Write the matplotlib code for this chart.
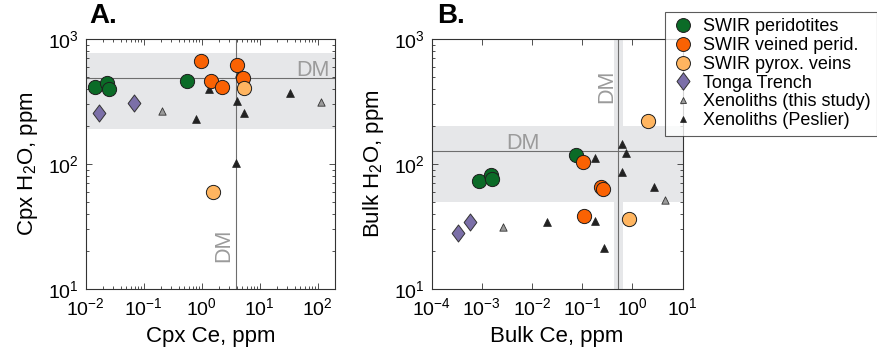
import matplotlib
matplotlib.use("Agg")
import matplotlib.pyplot as plt
from matplotlib.lines import Line2D
from matplotlib.path import Path
import numpy as np

plt.rcParams['font.family'] = ['Liberation Sans', 'DejaVu Sans']
plt.rcParams['mathtext.fontset'] = 'custom'
plt.rcParams['mathtext.rm'] = 'Liberation Sans'
plt.rcParams['mathtext.it'] = 'Liberation Sans:italic'

# ---- Panel A: clinopyroxene Ce vs H2O (ppm) ----
a_perid_ce = [0.0145, 0.023, 0.0255, 0.565]
a_perid_h2o = [415, 443, 401, 464]
a_veined_ce = [0.97, 1.45, 2.2, 4.0, 5.15]
a_veined_h2o = [670, 464, 415, 622, 488]
a_veins_ce = [5.3, 1.58]
a_veins_h2o = [403, 59.4]
a_tonga_ce = [0.0172, 0.068]
a_tonga_h2o = [256, 306]
a_xen_ce = [0.204, 114]
a_xen_h2o = [264, 313]
a_pes_ce = [1.32, 0.80, 4.1, 5.3, 33, 3.86, 4.3]
a_pes_h2o = [396, 228, 319, 257, 368, 102, 535]
a_dm_ce = 3.9
a_dm_h2o = 485
a_dm_band = (190, 775)

# ---- Panel B: bulk Ce vs H2O (ppm) ----
b_perid_ce = [8.6e-4, 1.5e-3, 1.6e-3, 0.075]
b_perid_h2o = [73, 81.7, 75.5, 119]
b_veined_ce = [0.102, 0.236, 0.262, 0.107]
b_veined_h2o = [103, 65.5, 62.8, 38.4]
b_veins_ce = [2.0, 0.86]
b_veins_h2o = [222, 36.5]
b_tonga_ce = [3.3e-4, 5.7e-4]
b_tonga_h2o = [28.2, 34.2]
b_xen_ce = [2.6e-3, 4.4]
b_xen_h2o = [31.5, 52]
b_pes_ce = [0.020, 0.18, 0.18, 0.27, 0.63, 0.73, 0.62, 2.7]
b_pes_h2o = [34.5, 111, 34.8, 21.4, 144, 123, 86, 65.8]
b_dm_ce = 0.52
b_dm_ce_band = (0.43, 0.64)
b_dm_h2o = 126
b_dm_band = (50, 200)

GREEN = '#0b6b27'
ORANGE = '#fa6203'
LIGHT = '#ffb560'
PURPLE = '#7b6fa8'
XGRAY = '#9a9a9a'
DARK = '#222222'
BAND = '#e6e7e9'
LINE = '#6e6e6e'
DMTXT = '#9b9b9b'

# slightly tall diamond
DIAMOND = Path([(0, 1), (0.75, 0), (0, -1), (-0.75, 0), (0, 1)],
               [Path.MOVETO, Path.LINETO, Path.LINETO, Path.LINETO, Path.CLOSEPOLY])

fig = plt.figure(figsize=(8.77, 3.51), dpi=100)
axA = fig.add_axes([0.0977, 0.1766, 0.2846, 0.7123])
axB = fig.add_axes([0.4922, 0.1766, 0.2862, 0.7123])


def draw(ax, d):
    circ = dict(marker='o', s=105, edgecolors='#1e1e1e', linewidths=0.7, zorder=5)
    ax.scatter(d['xen'][0], d['xen'][1], marker='^', s=28, c=XGRAY,
               edgecolors='#333333', linewidths=0.6, zorder=4)
    ax.scatter(d['pes'][0], d['pes'][1], marker='^', s=32, c=DARK,
               edgecolors=DARK, linewidths=0.5, zorder=4)
    ax.scatter(d['tonga'][0], d['tonga'][1], marker=DIAMOND, s=150, c=PURPLE,
               edgecolors='#333333', linewidths=0.7, zorder=5)
    ax.scatter(d['perid'][0], d['perid'][1], c=GREEN, **circ)
    ax.scatter(d['veined'][0], d['veined'][1], c=ORANGE, **circ)
    ax.scatter(d['veins'][0], d['veins'][1], c=LIGHT, **circ)
    ax.set_xscale('log')
    ax.set_yscale('log')
    ax.set_ylim(10, 1000)
    ax.tick_params(which='both', direction='in', top=True, right=True,
                   labelsize=14, width=0.6, color='#333333')
    ax.tick_params(axis='x', pad=6)
    ax.tick_params(axis='y', pad=5)
    ax.tick_params(which='major', length=4)
    ax.tick_params(which='minor', length=2)
    for s in ax.spines.values():
        s.set_linewidth(0.8)
        s.set_color('#333333')
        s.set_zorder(6)


draw(axA, dict(perid=(a_perid_ce, a_perid_h2o), veined=(a_veined_ce, a_veined_h2o),
               veins=(a_veins_ce, a_veins_h2o), tonga=(a_tonga_ce, a_tonga_h2o),
               xen=(a_xen_ce, a_xen_h2o), pes=(a_pes_ce, a_pes_h2o)))
draw(axB, dict(perid=(b_perid_ce, b_perid_h2o), veined=(b_veined_ce, b_veined_h2o),
               veins=(b_veins_ce, b_veins_h2o), tonga=(b_tonga_ce, b_tonga_h2o),
               xen=(b_xen_ce, b_xen_h2o), pes=(b_pes_ce, b_pes_h2o)))

# Depleted-mantle reference values
axA.set_xlim(1e-2, 200)
axA.axhspan(*a_dm_band, color=BAND, lw=0, zorder=0)
axA.axhline(a_dm_h2o, color=LINE, lw=0.8, zorder=1)
axA.axvline(a_dm_ce, color=LINE, lw=0.8, zorder=1)
axA.annotate('DM', (82, a_dm_h2o), xytext=(0, 2), textcoords='offset points',
             color=DMTXT, fontsize=15.5, ha='center', va='baseline', zorder=2)
axA.annotate('DM', (a_dm_ce, 22.5), xytext=(-1, 0), textcoords='offset points',
             color=DMTXT, fontsize=15.5, rotation=90, ha='right', va='center', zorder=2)

axB.set_xlim(1e-4, 10)
axB.axhspan(*b_dm_band, color=BAND, lw=0, zorder=0)
axB.axvspan(*b_dm_ce_band, color=BAND, lw=0, zorder=0.5)
axB.axhline(b_dm_h2o, color=LINE, lw=0.8, zorder=1)
axB.axvline(b_dm_ce, color=LINE, lw=0.8, zorder=1)
axB.annotate('DM', (6.6e-3, b_dm_h2o), xytext=(0, 2), textcoords='offset points',
             color=DMTXT, fontsize=15.5, ha='center', va='baseline', zorder=2)
axB.annotate('DM', (b_dm_ce, 417), xytext=(-1, 0), textcoords='offset points',
             color=DMTXT, fontsize=15.5, rotation=90, ha='right', va='center', zorder=2)

axA.set_xticks([1e-2, 1e-1, 1, 10, 100])
axB.set_xticks([1e-4, 1e-3, 1e-2, 1e-1, 1, 10])
for ax in (axA, axB):
    ax.set_yticks([10, 100, 1000])

axA.set_xlabel('Cpx Ce, ppm', fontsize=16, labelpad=5)
axA.set_ylabel('Cpx H$_2$O, ppm', fontsize=16, labelpad=6)
axB.set_xlabel('Bulk Ce, ppm', fontsize=16, labelpad=5)
axB.set_ylabel('Bulk H$_2$O, ppm', fontsize=16, labelpad=6)

fig.text(0.102, 0.955, 'A.', fontsize=20, fontweight='bold', ha='left', va='center')
fig.text(0.498, 0.955, 'B.', fontsize=20, fontweight='bold', ha='left', va='center')

handles = [
    Line2D([], [], ls='none', marker='o', ms=10, mfc=GREEN, mec='#1e1e1e', mew=0.7),
    Line2D([], [], ls='none', marker='o', ms=10, mfc=ORANGE, mec='#1e1e1e', mew=0.7),
    Line2D([], [], ls='none', marker='o', ms=10, mfc=LIGHT, mec='#1e1e1e', mew=0.7),
    Line2D([], [], ls='none', marker=DIAMOND, ms=12.5, mfc=PURPLE, mec='#333333', mew=0.7),
    Line2D([], [], ls='none', marker='^', ms=4.5, mfc=XGRAY, mec='#333333', mew=0.6),
    Line2D([], [], ls='none', marker='^', ms=5, mfc=DARK, mec=DARK, mew=0.5),
]
labels = ['SWIR peridotites', 'SWIR veined perid.', 'SWIR pyrox. veins',
          'Tonga Trench', 'Xenoliths (this study)', 'Xenoliths (Peslier)']
leg = fig.legend(handles, labels, loc='upper right', bbox_to_anchor=(0.9995, 0.966),
                 fontsize=13, frameon=True, fancybox=False, borderpad=0.35,
                 labelspacing=0.1, handletextpad=0.45, handlelength=1.3,
                 borderaxespad=0.0)
leg.get_frame().set_edgecolor('#333333')
leg.get_frame().set_linewidth(0.8)

fig.savefig('out.png', dpi=100)
